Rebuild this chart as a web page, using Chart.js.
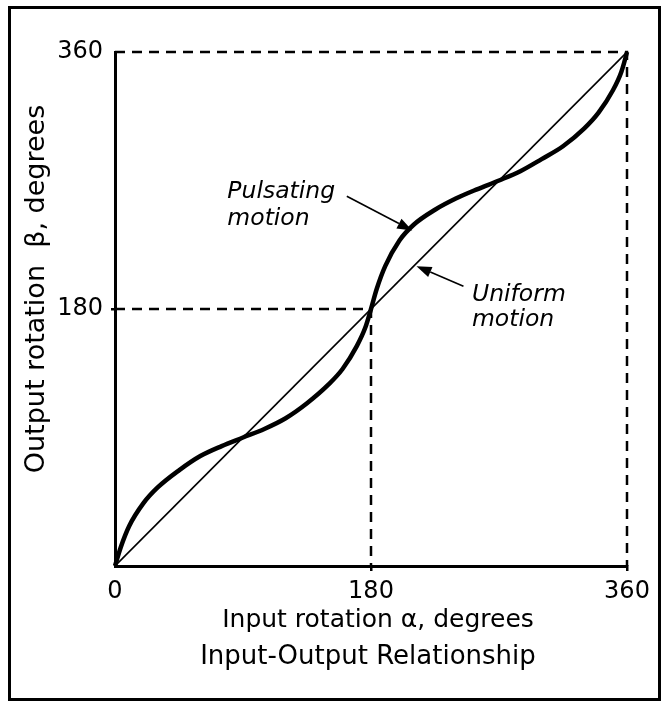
<!DOCTYPE html>
<html>
<head>
<meta charset="utf-8">
<title>Input-Output Relationship</title>
<script src="https://cdn.jsdelivr.net/npm/chart.js@4.4.1/dist/chart.umd.min.js"></script>
<style>
  html, body { margin: 0; padding: 0; background: #fff; }
  canvas { display: block; }
</style>
</head>
<body>
<canvas id="chart" width="669" height="708"></canvas>
<script>
// Input rotation alpha (degrees) and the output rotation beta of the pulsating joint
const inputAngle = [0, 4, 10, 20, 30, 45, 60, 75, 90,
  105, 120, 135, 150, 160, 170, 176, 180,
  184, 190, 200, 210, 225, 240, 255, 270,
  285, 300, 315, 330, 340, 350, 356, 360, 362];
const pulsatingOutput = [0, 13, 28, 44, 55, 67, 77, 84, 90,
  96, 103.5, 114, 127, 138, 154, 167, 180,
  194, 210, 228, 239, 249.5, 257.5, 264, 270,
  276.5, 285, 294, 306.5, 317.5, 333, 346, 360, 368.5];

// Uniform motion: output equals input
const uniformInput = [0, 360];
const uniformOutput = [0, 360];

// Dashed guide lines at half and full revolution
const halfTurn = 180;
const fullTurn = 360;

// Tick labels
const xTickValues = [0, 180, 360];
const yTickValues = [180, 360];

const FONT = "'DejaVu Sans', Verdana, sans-serif";

const toPoints = (xs, ys) => xs.map((v, i) => ({ x: v, y: ys[i] }));
const guide = (v) => [{ x: 0, y: v }, { x: v, y: v }, { x: v, y: 0 }];

// Frame, axis titles, caption and the two callouts with arrows
const decorations = {
  id: 'decorations',
  beforeDraw(chart) {
    const { ctx, width, height } = chart;
    ctx.save();
    ctx.fillStyle = '#fff';
    ctx.fillRect(0, 0, width, height);
    ctx.restore();
  },
  afterDraw(chart) {
    const { ctx, width, height, chartArea, scales: { x, y } } = chart;
    const midX = (chartArea.left + chartArea.right) / 2;
    const midY = (chartArea.top + chartArea.bottom) / 2;

    ctx.save();
    // outer frame
    ctx.strokeStyle = '#000';
    ctx.lineWidth = 3;
    ctx.strokeRect(9.5, 7.5, width - 19, height - 16);

    ctx.fillStyle = '#000';
    ctx.textAlign = 'center';
    ctx.textBaseline = 'middle';

    // x axis title
    ctx.font = `25px ${FONT}`;
    ctx.fillText('Input rotation \u03B1, degrees', midX + 7, 620);

    // caption under the x axis title
    ctx.font = `26px ${FONT}`;
    ctx.fillText('Input-Output Relationship', midX - 3, 657);

    // y axis title
    ctx.font = `27px ${FONT}`;
    ctx.translate(37, midY - 20);
    ctx.rotate(-Math.PI / 2);
    ctx.fillText('Output rotation  \u03B2, degrees', 0, 0);
    ctx.restore();

    const arrow = (from, to) => {
      const x0 = x.getPixelForValue(from[0]), y0 = y.getPixelForValue(from[1]);
      const x1 = x.getPixelForValue(to[0]), y1 = y.getPixelForValue(to[1]);
      const ang = Math.atan2(y1 - y0, x1 - x0);
      const len = 15, half = 5.5;
      const bx = x1 - len * Math.cos(ang), by = y1 - len * Math.sin(ang);
      ctx.save();
      ctx.strokeStyle = '#000';
      ctx.fillStyle = '#000';
      ctx.lineWidth = 1.6;
      ctx.beginPath();
      ctx.moveTo(x0, y0);
      ctx.lineTo(bx, by);
      ctx.stroke();
      ctx.beginPath();
      ctx.moveTo(x1, y1);
      ctx.lineTo(bx + half * Math.sin(ang), by - half * Math.cos(ang));
      ctx.lineTo(bx - half * Math.sin(ang), by + half * Math.cos(ang));
      ctx.closePath();
      ctx.fill();
      ctx.restore();
    };
    const label = (lines, at, gap) => {
      ctx.save();
      ctx.fillStyle = '#000';
      ctx.font = `italic 23.5px ${FONT}`;
      ctx.textAlign = 'left';
      ctx.textBaseline = 'alphabetic';
      const px = x.getPixelForValue(at[0]), py = y.getPixelForValue(at[1]);
      lines.forEach((t, i) => ctx.fillText(t, px, py + i * gap));
      ctx.restore();
    };

    label(['Pulsating', 'motion'], [79, 258], 27);
    arrow([163, 259], [209, 235]);
    label(['Uniform', 'motion'], [251, 185.5], 25);
    arrow([245, 196], [212, 210]);
  }
};

new Chart(document.getElementById('chart'), {
  type: 'line',
  data: {
    datasets: [
      {
        label: 'Half turn',
        data: guide(halfTurn),
        borderColor: '#000',
        borderWidth: 2.5,
        borderDash: [10, 7],
        pointRadius: 0,
        clip: false
      },
      {
        label: 'Full turn',
        data: guide(fullTurn),
        borderColor: '#000',
        borderWidth: 2.5,
        borderDash: [10, 7],
        pointRadius: 0,
        clip: false
      },
      {
        label: 'Uniform motion',
        data: toPoints(uniformInput, uniformOutput),
        borderColor: '#000',
        borderWidth: 1.6,
        pointRadius: 0
      },
      {
        label: 'Pulsating motion',
        data: toPoints(inputAngle, pulsatingOutput),
        borderColor: '#000',
        borderWidth: 4.5,
        pointRadius: 0,
        cubicInterpolationMode: 'monotone',
        clip: false
      }
    ]
  },
  options: {
    responsive: false,
    animation: false,
    layout: { padding: { left: 10, right: 42, top: 52, bottom: 73 } },
    plugins: {
      legend: { display: false },
      tooltip: { enabled: false }
    },
    scales: {
      x: {
        type: 'linear',
        min: 0,
        max: 360,
        afterBuildTicks: (s) => { s.ticks = xTickValues.map(v => ({ value: v })); },
        afterFit: (s) => { s.height = 69; },
        ticks: { color: '#000', font: { family: FONT, size: 24 }, padding: 6, maxRotation: 0 },
        grid: {
          drawOnChartArea: false,
          tickLength: 5,
          lineWidth: 2.5,
          color: (c) => (c.tick && c.tick.value === 0 ? 'rgba(0,0,0,0)' : '#000')
        },
        border: { display: true, color: '#000', width: 3 }
      },
      y: {
        type: 'linear',
        min: 0,
        max: 360,
        afterBuildTicks: (s) => { s.ticks = yTickValues.map(v => ({ value: v })); },
        afterFit: (s) => { s.width = 105; },
        ticks: { color: '#000', font: { family: FONT, size: 24 }, padding: 8 },
        grid: {
          drawOnChartArea: false,
          tickLength: 4,
          lineWidth: 2.5,
          color: (c) => (c.tick && c.tick.value === 180 ? '#000' : 'rgba(0,0,0,0)')
        },
        border: { display: true, color: '#000', width: 3 }
      }
    }
  },
  plugins: [decorations]
});
</script>
</body>
</html>
